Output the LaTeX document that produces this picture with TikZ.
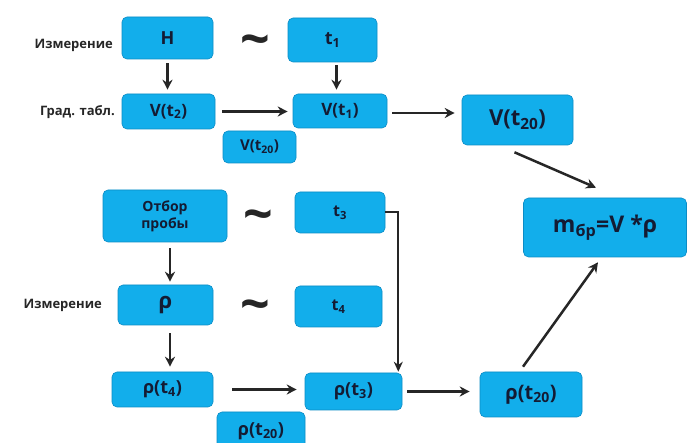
\documentclass[tikz,border=0pt]{standalone}
\usepackage{fontspec}
\setmainfont{Open Sans}
\usetikzlibrary{arrows.meta,calc}
\definecolor{boxfill}{HTML}{12AEEB}
\definecolor{boxline}{HTML}{0B8CC6}
\definecolor{ink}{HTML}{141B33}
\tikzset{
  box/.style={draw=boxline, line width=0.6pt, fill=boxfill, rounded corners=5pt,
    text=ink, inner sep=0pt, align=center},
  fs/.style={font=\bfseries\fontsize{#1}{#1}\selectfont},
  lbl/.style={font=\bfseries\fontsize{13}{15}\selectfont, text=black!85, anchor=east, inner sep=0pt},
  arr/.style={-{Stealth[length=10pt,width=10pt]}, line width=2.5pt, black!85},
  tld/.style={font=\bfseries\fontsize{52}{52}\selectfont, inner sep=0pt, text=black!85}
}
\begin{document}
\begin{tikzpicture}[x=1pt,y=-1pt]
\useasboundingbox (0,0) rectangle (691,443);
\fill[white] (0,0) rectangle (691,443);
% top part
\node[box, fs=18, minimum width=91pt, minimum height=42pt] (H) at (167.5,38) {Н};
\node[box, fs=18, minimum width=89pt, minimum height=44pt] (t1) at (332.5,40) {t\textsubscript{1}};
\node[box, fs=17, minimum width=93pt, minimum height=35pt] (Vt2) at (168.5,111.5) {V(t\textsubscript{2})};
\node[box, fs=17, minimum width=94pt, minimum height=34pt] (Vt1) at (340,111) {V(t\textsubscript{1})};
\node[box, fs=15, minimum width=73pt, minimum height=32pt] (Vt20s) at (259.5,147) {V(t\textsubscript{20})};
\node[box, fs=22, minimum width=111pt, minimum height=50pt] (Vt20) at (517.5,120) {V(t\textsubscript{20})};
\node[box, fs=23, minimum width=163pt, minimum height=59pt] (m) at (605,227.5) {m\textsubscript{бр}=V *ρ};
\node[tld] (s1) at (255,46) {\textasciitilde};
\node[lbl] (l1) at (113,45) {Измерение};
\node[lbl] (l2) at (115,112) {Град. табл.};
% bottom part
\node[box, font=\bfseries\fontsize{14}{17}\selectfont, minimum width=124pt, minimum height=52pt] (Ot) at (165,216) {Отбор\\пробы};
\node[box, fs=16, minimum width=90pt, minimum height=41pt] (t3) at (340,212.5) {t\textsubscript{3}};
\node[box, fs=22, minimum width=95pt, minimum height=40pt] (rho) at (165.5,305) {ρ};
\node[box, fs=16, minimum width=87pt, minimum height=41pt] (t4) at (338.5,306.5) {t\textsubscript{4}};
\node[box, fs=18, minimum width=101pt, minimum height=35pt] (rt4) at (162.5,389.5) {ρ(t\textsubscript{4})};
\node[box, fs=18, minimum width=97pt, minimum height=37pt] (rt3) at (353.5,391.5) {ρ(t\textsubscript{3})};
\node[box, fs=18, minimum width=88pt, minimum height=38pt] (rt20s) at (261,431) {ρ(t\textsubscript{20})};
\node[box, fs=20, minimum width=102pt, minimum height=45pt] (rt20) at (531,394.5) {ρ(t\textsubscript{20})};
\node[tld] (s2) at (258,221) {\textasciitilde};
\node[tld] (s3) at (255,311) {\textasciitilde};
\node[lbl] (l3) at (102,305) {Измерение};
% arrows
\draw[arr, shorten <=4pt, shorten >=4pt] (H.south) -- (H.south |- Vt2.north);
\draw[arr, shorten <=3pt, shorten >=4pt] ($(t1.south)+(4,0)$) -- ($(t1.south |- Vt1.north)+(4,0)$);
\draw[arr, shorten <=7pt, shorten >=5pt] (Vt2.east) -- (Vt2.east -| Vt1.west);
\draw[arr, shorten <=5pt, shorten >=7pt] ($(Vt1.east)+(0,2)$) -- ($(Vt1.east -| Vt20.west)+(0,2)$);
\draw[arr] ($(Vt20.south)+(-3,7)$) -- ($(m.north)+(-9,-10)$);
\draw[arr] ($(rt20.north)+(-8,-5)$) -- ($(m.south)+(-7,5)$);
\draw[line width=2pt, black!85, -{Stealth[length=10pt,width=9pt]}] (t3.east) -| ($(rt3.north east)+(-4,-1)$);
\draw[arr] ($(Ot.south)+(5,6)$) -- ($(Ot.south |- rho.north)+(5,-3)$);
\draw[arr] ($(rho.south)+(4.5,8)$) -- ($(rho.south |- rt4.north)+(4.5,-5)$);
\draw[arr, shorten <=19pt, shorten >=8pt] (rt4.east) -- (rt4.east -| rt3.west);
\draw[arr, shorten <=5pt, shorten >=10pt] (rt3.east) -- (rt3.east -| rt20.west);
\end{tikzpicture}
\end{document}
